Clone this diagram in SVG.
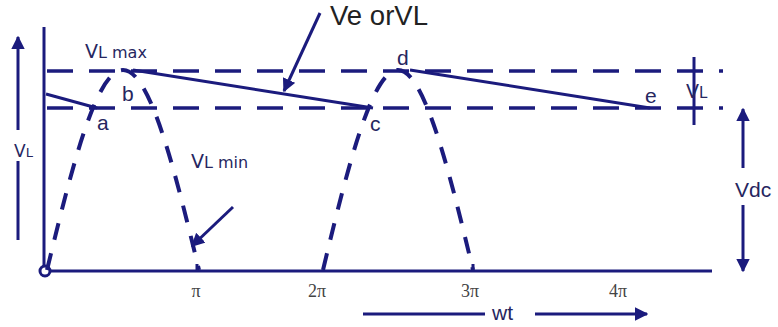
<svg xmlns="http://www.w3.org/2000/svg" width="778" height="327" viewBox="0 0 778 327">
<defs>
<marker id="ah" viewBox="0 0 10 10" refX="9" refY="5" markerWidth="4.5" markerHeight="4.5" orient="auto" markerUnits="strokeWidth">
<path d="M0,0 L10,5 L0,10 z" fill="#1b1b7d"/>
</marker>
</defs>
<style>
.ln{stroke:#1b1b7d;fill:none;stroke-width:3}
.dash{stroke:#1b1b7d;fill:none;stroke-width:3.5;stroke-dasharray:26 16}
.curve{stroke:#1b1b7d;fill:none;stroke-width:4;stroke-dasharray:17 14}
.decay{stroke:#1b1b7d;fill:none;stroke-width:3}
.lbl{font-family:"Liberation Sans",Arial,sans-serif;fill:#262660;font-size:21px}
.vl{font-family:"DejaVu Sans",Verdana,sans-serif;fill:#262660}
.pi{font-family:"Liberation Serif","Times New Roman",serif;fill:#444;font-size:18px}
</style>
<rect width="778" height="327" fill="#fff"/>
<g id="axes">
<line class="ln" x1="44" y1="27" x2="44" y2="271"/>
<line class="ln" x1="45" y1="271" x2="712" y2="271"/>
<circle cx="45" cy="271" r="5" fill="#fff" stroke="#1b1b7d" stroke-width="3"/>
</g>
<g id="levels">
<line class="dash" x1="47" y1="71" x2="723" y2="71"/>
<line class="dash" x1="47" y1="108" x2="723" y2="108"/>
<line class="ln" x1="694" y1="57" x2="694" y2="125"/>
</g>
<g id="waveform">
<path class="curve" d="M47,270 C72.4,165 96.4,70 123,70 C149.6,70 173.6,165 199,270"/>
<path class="curve" d="M323,270 C348.1,165 372.3,70 398,70 C423.7,70 447.9,165 473,270"/>
<line class="ln" x1="197" y1="264" x2="197" y2="271"/>
<line class="ln" x1="473" y1="264" x2="473" y2="271"/>
</g>
<g id="connectors">
<line class="decay" x1="46" y1="94" x2="97" y2="108"/>
<line class="decay" x1="133" y1="70" x2="373" y2="108"/>
<line class="decay" x1="410" y1="70" x2="650" y2="108"/>
<line class="ln" x1="320" y1="13" x2="284" y2="91" marker-end="url(#ah)"/>
<line class="ln" x1="233" y1="207" x2="192" y2="246" marker-end="url(#ah)"/>
<line class="ln" x1="18" y1="130" x2="18" y2="37" marker-end="url(#ah)"/>
<line class="ln" x1="18" y1="161" x2="18" y2="240"/>
<line class="ln" x1="743" y1="168" x2="743" y2="109" marker-end="url(#ah)"/>
<line class="ln" x1="743" y1="205" x2="743" y2="271" marker-end="url(#ah)"/>
<line class="ln" x1="363" y1="314" x2="485" y2="314"/>
<line class="ln" x1="535" y1="314" x2="647" y2="314" marker-end="url(#ah)"/>
</g>
<g id="labels">
<text x="330" y="25" font-family="Liberation Sans, Arial, sans-serif" font-size="27" fill="#222" textLength="98" lengthAdjust="spacingAndGlyphs">Ve orVL</text>
<text class="vl" x="85" y="58"><tspan font-size="19">V</tspan><tspan font-size="16">L max</tspan></text>
<text class="vl" x="191" y="168"><tspan font-size="19">V</tspan><tspan font-size="16">L min</tspan></text>
<text class="vl" x="14" y="157"><tspan font-size="17">V</tspan><tspan font-size="13">L</tspan></text>
<text class="vl" x="686" y="98"><tspan font-size="19">V</tspan><tspan font-size="15">L</tspan></text>
<text class="lbl" x="97" y="130">a</text>
<text class="lbl" x="122" y="101">b</text>
<text class="lbl" x="370" y="131">c</text>
<text class="lbl" x="397" y="65">d</text>
<text class="lbl" x="645" y="103">e</text>
<text class="lbl" x="735" y="197" font-size="22">Vdc</text>
<text class="lbl" x="492" y="320" font-size="24">wt</text>
<text class="pi" x="196" y="297" text-anchor="middle">π</text>
<text class="pi" x="317" y="297" text-anchor="middle">2π</text>
<text class="pi" x="470" y="297" text-anchor="middle">3π</text>
<text class="pi" x="618" y="297" text-anchor="middle">4π</text>
</g>
</svg>
